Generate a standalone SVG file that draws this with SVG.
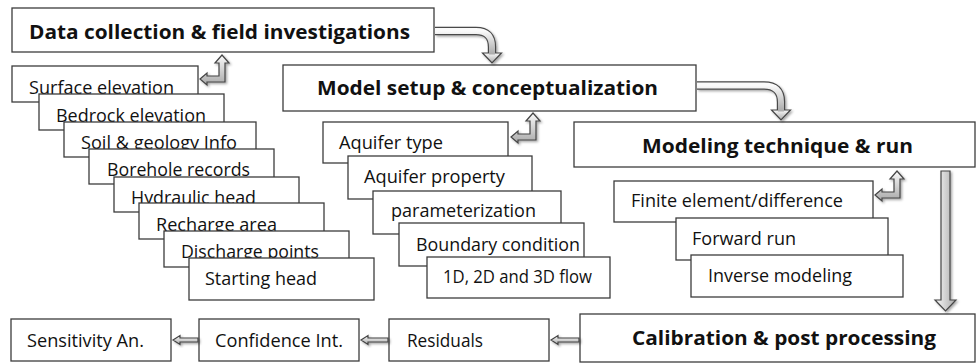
<svg xmlns="http://www.w3.org/2000/svg" width="976" height="364" viewBox="0 0 976 364">
<style>
.bx{fill:#fff;stroke:#3c3c3c;stroke-width:1.3}
.t{font-family:"Open Sans","Liberation Sans",sans-serif;font-size:18px;fill:#111}
.h{font-family:"Open Sans","Liberation Sans",sans-serif;font-size:20px;font-weight:bold;fill:#111}
.ar{stroke:#444;stroke-width:1.2;stroke-linejoin:miter}
.sh{fill:none;stroke:#4a4a4a;stroke-width:8.4}
</style>
<defs>
<linearGradient id="gv" x1="0" y1="0" x2="0" y2="1"><stop offset="0" stop-color="#fafafa"/><stop offset="1" stop-color="#a9a9a9"/></linearGradient>
<linearGradient id="gh" x1="0" y1="0" x2="1" y2="0"><stop offset="0" stop-color="#fafafa"/><stop offset="1" stop-color="#a9a9a9"/></linearGradient>
<filter id="ds" x="-30%" y="-30%" width="160%" height="160%"><feDropShadow dx="1.5" dy="1.5" stdDeviation="1.2" flood-color="#000" flood-opacity="0.35"/></filter>
</defs>

<g id="n-data">
<rect class="bx" x="12" y="8" width="422" height="44"/>
<text class="h" x="29" y="39" textLength="381" lengthAdjust="spacingAndGlyphs">Data collection &amp; field investigations</text>
</g>
<g id="n-model">
<rect class="bx" x="283" y="65" width="413" height="46"/>
<text class="h" x="317" y="95" textLength="341" lengthAdjust="spacingAndGlyphs">Model setup &amp; conceptualization</text>
</g>
<g id="n-tech">
<rect class="bx" x="574" y="122" width="401" height="45"/>
<text class="h" x="642" y="153" textLength="271" lengthAdjust="spacingAndGlyphs">Modeling technique &amp; run</text>
</g>
<g id="n-calib">
<rect class="bx" x="580" y="314" width="395" height="48"/>
<text class="h" x="632" y="345" textLength="304" lengthAdjust="spacingAndGlyphs">Calibration &amp; post processing</text>
</g>

<g id="n-surface"><rect class="bx" x="12" y="66" width="186" height="36"/><text class="t" x="29" y="94" textLength="145" lengthAdjust="spacingAndGlyphs">Surface elevation</text></g>
<g id="n-bedrock"><rect class="bx" x="39" y="94" width="185" height="36"/><text class="t" x="56" y="122" textLength="150" lengthAdjust="spacingAndGlyphs">Bedrock elevation</text></g>
<g id="n-soil"><rect class="bx" x="64" y="122" width="192" height="35"/><text class="t" x="81" y="149" textLength="156" lengthAdjust="spacingAndGlyphs">Soil &amp; geology Info</text></g>
<g id="n-borehole"><rect class="bx" x="89" y="149" width="185" height="35"/><text class="t" x="107" y="176" textLength="143" lengthAdjust="spacingAndGlyphs">Borehole records</text></g>
<g id="n-hydraulic"><rect class="bx" x="114" y="177" width="185" height="35"/><text class="t" x="131" y="204" textLength="125" lengthAdjust="spacingAndGlyphs">Hydraulic head</text></g>
<g id="n-recharge"><rect class="bx" x="139" y="203" width="185" height="36"/><text class="t" x="156" y="231" textLength="121" lengthAdjust="spacingAndGlyphs">Recharge area</text></g>
<g id="n-discharge"><rect class="bx" x="164" y="231" width="185" height="36"/><text class="t" x="181" y="258" textLength="138" lengthAdjust="spacingAndGlyphs">Discharge points</text></g>
<g id="n-starting"><rect class="bx" x="189" y="258" width="185" height="42"/><text class="t" x="205" y="285" textLength="112" lengthAdjust="spacingAndGlyphs">Starting head</text></g>

<g id="n-aqtype"><rect class="bx" x="323" y="122" width="185" height="41"/><text class="t" x="339" y="149" textLength="104" lengthAdjust="spacingAndGlyphs">Aquifer type</text></g>
<g id="n-aqprop"><rect class="bx" x="348" y="156" width="184" height="43"/><text class="t" x="364" y="183" textLength="141" lengthAdjust="spacingAndGlyphs">Aquifer property</text></g>
<g id="n-param"><rect class="bx" x="373" y="191" width="188" height="43"/><text class="t" x="391" y="217" textLength="145" lengthAdjust="spacingAndGlyphs">parameterization</text></g>
<g id="n-boundary"><rect class="bx" x="399" y="223" width="185" height="43"/><text class="t" x="416" y="251" textLength="164" lengthAdjust="spacingAndGlyphs">Boundary condition</text></g>
<g id="n-flow"><rect class="bx" x="427" y="257" width="183" height="41"/><text class="t" x="443" y="283" textLength="149" lengthAdjust="spacingAndGlyphs">1D, 2D and 3D flow</text></g>

<g id="n-finite"><rect class="bx" x="614" y="181" width="259" height="41"/><text class="t" x="631" y="207" textLength="212" lengthAdjust="spacingAndGlyphs">Finite element/difference</text></g>
<g id="n-forward"><rect class="bx" x="676" y="218" width="212" height="42"/><text class="t" x="692" y="245" textLength="104" lengthAdjust="spacingAndGlyphs">Forward run</text></g>
<g id="n-inverse"><rect class="bx" x="691" y="255" width="212" height="42"/><text class="t" x="708" y="282" textLength="144" lengthAdjust="spacingAndGlyphs">Inverse modeling</text></g>

<g id="n-sens"><rect class="bx" x="11" y="319" width="160" height="42"/><text class="t" x="27" y="347" textLength="117" lengthAdjust="spacingAndGlyphs">Sensitivity An.</text></g>
<g id="n-conf"><rect class="bx" x="199" y="319" width="160" height="42"/><text class="t" x="215" y="347" textLength="128" lengthAdjust="spacingAndGlyphs">Confidence Int.</text></g>
<g id="n-resid"><rect class="bx" x="389" y="319" width="160" height="42"/><text class="t" x="407" y="347" textLength="76" lengthAdjust="spacingAndGlyphs">Residuals</text></g>

<g id="connectors">
<g filter="url(#ds)">
<path class="sh" d="M435,31 H476 Q492,31 492,47 V54"/>
<path class="ar" fill="url(#gv)" d="M482.5,53 L501.5,53 L492,63 Z"/>
<path d="M435,31 H476 Q492,31 492,47 V54.5" fill="none" stroke="url(#gv)" stroke-width="6"/>
</g>
<g filter="url(#ds)">
<path class="sh" d="M697,85.5 H764 Q781,85.5 781,102 V111"/>
<path class="ar" fill="url(#gv)" d="M771.5,110 L790.5,110 L781,120 Z"/>
<path d="M697,85.5 H764 Q781,85.5 781,102 V111.5" fill="none" stroke="url(#gv)" stroke-width="6"/>
</g>
<g filter="url(#ds)">
<path class="ar" fill="url(#gh)" d="M941,171 H950 V300 H956 L945.5,311 L935,300 H941 Z"/>
</g>
<g filter="url(#ds)">
<path class="ar" fill="url(#gv)" transform="translate(200,79)" d="M0,0 L7,-6 L7,-3 L19,-3 L19,-16 L15,-16 L22,-24 L29,-16 L25,-16 L25,3 L7,3 L7,6 Z"/>
<path class="ar" fill="url(#gv)" transform="translate(511,137)" d="M0,0 L7,-6 L7,-3 L19,-3 L19,-16 L15,-16 L22,-24 L29,-16 L25,-16 L25,3 L7,3 L7,6 Z"/>
<path class="ar" fill="url(#gv)" transform="translate(875,195)" d="M0,0 L7,-6 L7,-3 L19,-3 L19,-16 L15,-16 L22,-24 L29,-16 L25,-16 L25,3 L7,3 L7,6 Z"/>
</g>
<g filter="url(#ds)">
<path class="ar" fill="url(#gv)" d="M173,340 L180,335.5 V338 H198 V342 H180 V344.5 Z"/>
<path class="ar" fill="url(#gv)" d="M361,340 L368,335.5 V338 H388 V342 H368 V344.5 Z"/>
<path class="ar" fill="url(#gv)" d="M551,340 L558,335.5 V338 H579 V342 H558 V344.5 Z"/>
</g>
</g>
</svg>
